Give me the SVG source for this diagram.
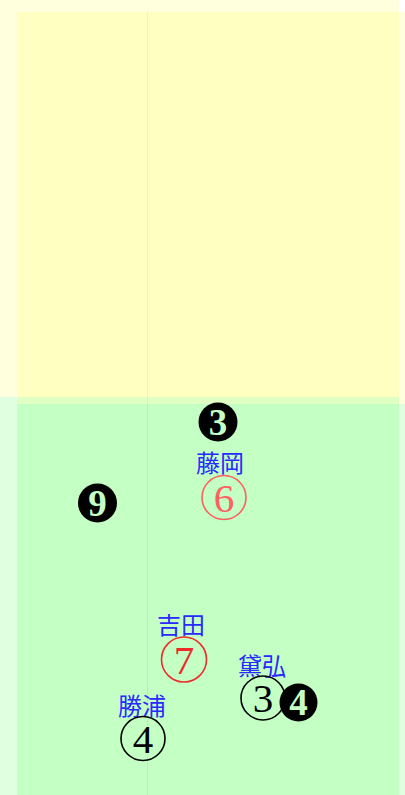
<svg xmlns="http://www.w3.org/2000/svg" width="405" height="795" viewBox="0 0 405 795">
<style>
.ybg{fill:#ffff00;fill-opacity:0.13}
.gbg{fill:#00ff00;fill-opacity:0.12}
.lbl{font-family:"Noto Sans CJK JP","Noto Sans CJK SC",sans-serif;font-size:24px;fill:#2a2aff;text-anchor:middle}
.dig{font-family:"Liberation Serif","DejaVu Serif",serif;font-size:41px;text-anchor:middle}
.ring{fill:none;stroke-width:1.6}
.blk{fill:#000}
.neg{font-family:"Liberation Serif","DejaVu Serif",serif;font-size:37px;font-weight:bold;fill:#c5ffc5;text-anchor:middle}
</style>
<rect width="405" height="795" fill="#fff"/>
<g id="background">
<rect class="ybg" x="0" y="0" width="399" height="397"/>
<rect class="ybg" x="17" y="12" width="388" height="392"/>
<rect class="gbg" x="0" y="397" width="399" height="398"/>
<rect class="gbg" x="17" y="404" width="388" height="391"/>
<line x1="147.5" y1="12" x2="147.5" y2="404" stroke="#e8e8a0" stroke-opacity="0.5" stroke-width="1"/>
<line x1="147.5" y1="404" x2="147.5" y2="795" stroke="#a0e8a0" stroke-opacity="0.5" stroke-width="1"/>
</g>
<g id="connectors"></g>
<g id="n3">
<circle class="blk" cx="218" cy="422" r="19.5"/>
<text class="neg" x="218" y="434.5">3</text>
</g>
<g id="n9">
<circle class="blk" cx="97.5" cy="503" r="19.5"/>
<text class="neg" x="97.5" y="515.5">9</text>
</g>
<g id="fujioka">
<text class="lbl" x="220" y="472">藤岡</text>
<circle class="ring" cx="224" cy="497.5" r="22" stroke="#ff6060"/>
<text class="dig" x="224" y="511.5" fill="#ff6060">6</text>
</g>
<g id="yoshida">
<text class="lbl" x="181" y="634">吉田</text>
<circle class="ring" cx="184" cy="659.5" r="22.5" stroke="#ee2a2a"/>
<text class="dig" x="184" y="673.5" fill="#ee2a2a">7</text>
</g>
<g id="tairahiro">
<text class="lbl" x="262" y="675">黛弘</text>
<circle class="ring" cx="263" cy="698" r="22" stroke="#000"/>
<text class="dig" x="263" y="712" fill="#000">3</text>
</g>
<g id="n4b">
<circle class="blk" cx="298.5" cy="702.5" r="19"/>
<text class="neg" x="298.5" y="715">4</text>
</g>
<g id="katsuura">
<text class="lbl" x="142" y="715">勝浦</text>
<circle class="ring" cx="143" cy="738.5" r="22" stroke="#000"/>
<text class="dig" x="143" y="752.5" fill="#000">4</text>
</g>
</svg>
